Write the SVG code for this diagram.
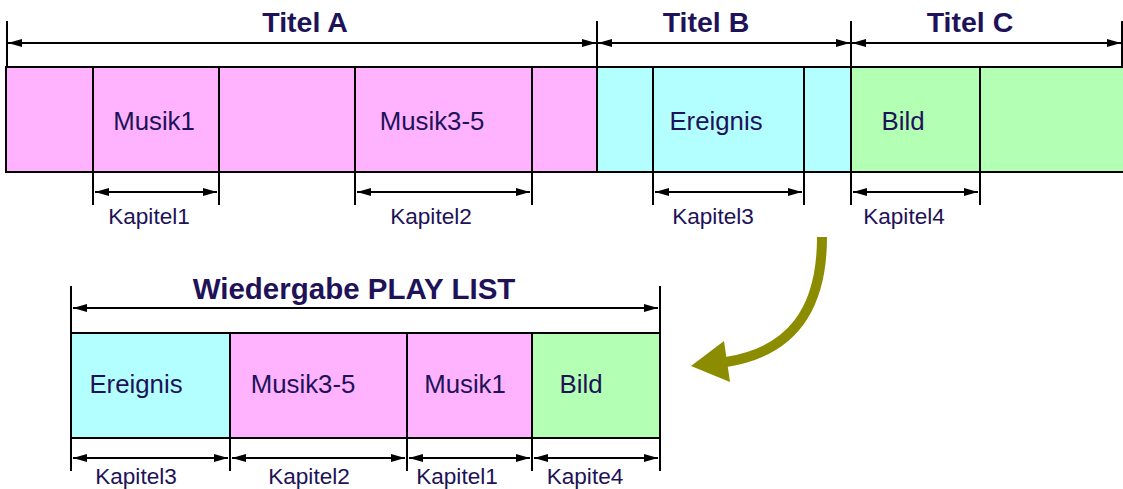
<svg xmlns="http://www.w3.org/2000/svg" width="1123" height="489" viewBox="0 0 1123 489">
<defs>
<style>
.pk{fill:#ffb3ff;stroke:#000;stroke-width:2}
.cy{fill:#b3ffff;stroke:#000;stroke-width:2}
.gr{fill:#b3ffb3;stroke:#000;stroke-width:2}
.lbl{font-family:"Liberation Sans",Arial,sans-serif;font-size:25.8px;fill:#1e1258;text-anchor:middle}
.kap{font-family:"Liberation Sans",Arial,sans-serif;font-size:22.6px;fill:#1e1258;text-anchor:middle}
.ttl{font-family:"Liberation Sans",Arial,sans-serif;font-size:28.5px;font-weight:bold;fill:#1e1258;text-anchor:middle}
.tick{stroke:#000;stroke-width:2;fill:none}
.dim{stroke:#000;stroke-width:2;fill:none;marker-start:url(#ah);marker-end:url(#ah)}
</style>
<marker id="ah" markerUnits="userSpaceOnUse" markerWidth="14" markerHeight="8" refX="14" refY="4" orient="auto-start-reverse" viewBox="0 0 14 8">
<path d="M0,0 L14,4 L0,8 z" fill="#000"/>
</marker>
</defs>
<rect width="1123" height="489" fill="#fff"/>

<!-- top row nodes -->
<g id="titelA">
<g id="a1"><rect class="pk" x="6" y="67" width="87" height="105"/></g>
<g id="a2"><rect class="pk" x="93" y="67" width="126" height="105"/><text class="lbl" x="154" y="130">Musik1</text></g>
<g id="a3"><rect class="pk" x="219" y="67" width="136" height="105"/></g>
<g id="a4"><rect class="pk" x="355" y="67" width="177" height="105"/><text class="lbl" x="432" y="130">Musik3-5</text></g>
<g id="a5"><rect class="pk" x="532" y="67" width="65" height="105"/></g>
<text class="ttl" x="305" y="32">Titel A</text>
</g>
<g id="titelB">
<g id="b1"><rect class="cy" x="597" y="67" width="56" height="105"/></g>
<g id="b2"><rect class="cy" x="653" y="67" width="151" height="105"/><text class="lbl" x="716" y="130">Ereignis</text></g>
<g id="b3"><rect class="cy" x="804" y="67" width="47" height="105"/></g>
<text class="ttl" x="706" y="32">Titel B</text>
</g>
<g id="titelC">
<g id="c1"><rect class="gr" x="851" y="67" width="129" height="105"/><text class="lbl" x="903" y="130">Bild</text></g>
<g id="c2"><rect class="gr" x="980" y="67" width="145" height="105"/></g>
<text class="ttl" x="970" y="32">Titel C</text>
</g>

<!-- bottom play list -->
<g id="playlist">
<g id="p1"><rect class="cy" x="71" y="333" width="159" height="105"/><text class="lbl" x="136" y="393">Ereignis</text></g>
<g id="p2"><rect class="pk" x="230" y="333" width="177" height="105"/><text class="lbl" x="303" y="393">Musik3-5</text></g>
<g id="p3"><rect class="pk" x="407" y="333" width="125" height="105"/><text class="lbl" x="465" y="393">Musik1</text></g>
<g id="p4"><rect class="gr" x="532" y="333" width="128" height="105"/><text class="lbl" x="581" y="393">Bild</text></g>
<text class="ttl" x="354" y="299" style="font-size:29.5px">Wiedergabe PLAY LIST</text>
</g>

<!-- chapter labels -->
<g id="kapitel-labels">
<text class="kap" x="149" y="224">Kapitel1</text>
<text class="kap" x="431" y="224">Kapitel2</text>
<text class="kap" x="713" y="224">Kapitel3</text>
<text class="kap" x="904" y="224">Kapitel4</text>
<text class="kap" x="136" y="484">Kapitel3</text>
<text class="kap" x="309" y="484">Kapitel2</text>
<text class="kap" x="457" y="484">Kapitel1</text>
<text class="kap" x="585" y="484">Kapite4</text>
</g>

<g id="connectors">
<!-- title ticks -->
<path class="tick" d="M7,21 V67 M597,21 V67 M851,21 V67 M1122,21 V67"/>
<path class="dim" d="M8,43 H596"/>
<path class="dim" d="M598,43 H850"/>
<path class="dim" d="M852,43 H1121"/>
<!-- chapter ticks top -->
<path class="tick" d="M93,172 V205 M219,172 V205 M355,172 V205 M532,172 V205 M653,172 V205 M804,172 V205 M851,172 V205 M980,172 V205"/>
<path class="dim" d="M95,192 H217"/>
<path class="dim" d="M357,192 H530"/>
<path class="dim" d="M655,192 H802"/>
<path class="dim" d="M853,192 H978"/>
<!-- playlist ticks -->
<path class="tick" d="M71,286 V333 M660,286 V333"/>
<path class="dim" d="M73,308 H658"/>
<path class="tick" d="M71,438 V471 M230,438 V471 M407,438 V471 M532,438 V471 M660,438 V471"/>
<path class="dim" d="M73,458 H228"/>
<path class="dim" d="M232,458 H405"/>
<path class="dim" d="M409,458 H530"/>
<path class="dim" d="M534,458 H658"/>
<!-- curved arrow -->
<path d="M822,237 C822,312 790,352 726,362" fill="none" stroke="#8c8c00" stroke-width="10"/>
<polygon points="691,366 724,341 730,382" fill="#8c8c00"/>
</g>
</svg>
